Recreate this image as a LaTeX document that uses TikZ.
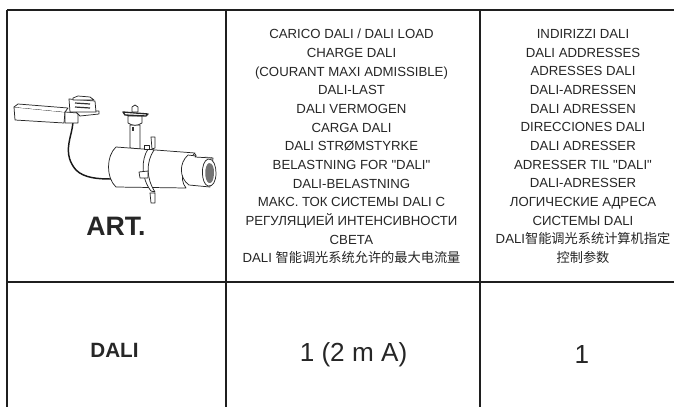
\documentclass[tikz,border=0pt]{standalone}
\usepackage{fontspec}
\setmainfont{Liberation Sans}
\newfontfamily\plainfont{Liberation Sans}
\newfontfamily\cjk{Noto Sans CJK SC}
\tikzset{
  gridline/.style={line width=1.9pt,color=black!88},
  hdr/.style={align=center,font=\plainfont\fontsize{9.9}{14}\selectfont,inner sep=0pt,text=black!85},
  big/.style={font=\fontsize{19.6}{22}\selectfont,text=black!85,inner sep=0pt},
  lamp/.style={line width=0.55pt,color=black!85,fill=white,line join=round}
}
\begin{document}
\begin{tikzpicture}[x=0.75pt,y=-0.75pt]
\useasboundingbox (0,0) rectangle (674,407);
\fill[white] (0,0) rectangle (674,407);
\coordinate (tl) at (7,10); \coordinate (tr) at (674,10);
\coordinate (ml) at (7,282); \coordinate (mr) at (674,282);
\coordinate (bl) at (7,407);
\coordinate (c1t) at (226,10); \coordinate (c1b) at (226,407);
\coordinate (c2t) at (480,10); \coordinate (c2b) at (480,407);
\draw[gridline] (tl) -- (tr);
\draw[gridline] (ml) -- (mr);
\draw[gridline] (tl) -- (bl);
\draw[gridline] (c1t) -- (c1b);
\draw[gridline] (c2t) -- (c2b);
\node[hdr,anchor=north] (h1) at (351.5,29) {CARICO DALI / DALI LOAD\\CHARGE DALI\\(COURANT MAXI ADMISSIBLE)\\DALI-LAST\\DALI VERMOGEN\\CARGA DALI\\DALI STRØMSTYRKE\\BELASTNING FOR "DALI"\\DALI-BELASTNING\\МАКС. ТОК СИСТЕМЫ DALI С\\РЕГУЛЯЦИЕЙ ИНТЕНСИВНОСТИ\\СВЕТА\\DALI {\cjk 智能调光系统允许的最大电流量}};
\node[hdr,anchor=north] (h2) at (583,29) {INDIRIZZI DALI\\DALI ADDRESSES\\ADRESSES DALI\\DALI-ADRESSEN\\DALI ADRESSEN\\DIRECCIONES DALI\\DALI ADRESSER\\ADRESSER TIL "DALI"\\DALI-ADRESSER\\ЛОГИЧЕСКИЕ АДРЕСА\\СИСТЕМЫ DALI\\DALI{\cjk 智能调光系统计算机指定}\\{\cjk 控制参数}};
\node[inner sep=0pt,font=\fontsize{20}{22}\selectfont\bfseries,text=black!85] (art) at (116,226) {ART.};
\node[inner sep=0pt,font=\fontsize{15.5}{17}\selectfont\bfseries,text=black!85] (dali) at (114.5,350) {DALI};
\node[big] (v1) at (353.5,355) {1 (2 m A)};
\node[big] (v2) at (582,355) {1};
% cable
\draw[line width=1.1pt,color=black!90] (73,122) .. controls (72,132) and (70,136) .. (69,143) .. controls (67,155) and (70,163) .. (76,170) .. controls (84,178) and (98,179) .. (111,179);
% track adapter box
\draw[lamp] (14,107) -- (15,120) -- (64,123) -- (65,112) -- cycle;
\draw[lamp] (14,107) -- (18,104) -- (68,108) -- (65,112);
\draw[lamp] (65,112) -- (78,113) -- (78,123) -- (65,123) -- cycle;
\draw[lamp] (75,111) -- (99,111) -- (99,114) -- (80,116) -- cycle;
\draw[lamp] (69,99) -- (95,101) -- (96,112) -- (70,112) -- cycle;
\draw[lamp] (73,98) -- (78,96) -- (90,97) -- (94,100) -- (73,100) -- cycle;
\draw[line width=0.9pt,color=black!80] (75,103) -- (90,104);
\draw[line width=0.9pt,color=black!80] (75,107) -- (90,108);
% stem and bracket
\draw[lamp] (130,125) -- (130,148) -- (140,149) -- (140,125) -- cycle;
\draw[line width=1pt,color=black!80] (133,127) -- (133,131);
\draw[lamp] (128,116) -- (128,123) .. controls (132,126) and (138,126) .. (142,123) -- (142,116) -- cycle;
\draw[lamp,line width=1pt] (123,112) -- (148,114) -- (146,116) -- (125,115) -- cycle;
\draw[lamp] (132,112) -- (132,107) -- (135,105) -- (138,107) -- (138,112) -- cycle;
% body
\draw[lamp] (116,147) -- (195,153) .. controls (184,163) and (178,178) .. (186,188) -- (116,187) .. controls (106,178) and (106,156) .. (116,147) -- cycle;
% front tube
\draw[lamp] (188,155) -- (213,158) -- (210,187) -- (189,185) .. controls (179,178) and (179,163) .. (188,155) -- cycle;
\draw[lamp] (195,154) .. controls (197,155) and (196,156) .. (195,157) -- (212,158);
% lens
\draw[lamp] (208,159) .. controls (214,158) and (216,167) .. (216,173) .. controls (216,181) and (213,187) .. (208,186) .. controls (201,184) and (200,162) .. (208,159) -- cycle;
\fill[black!55] (209,163) .. controls (213,163) and (214,168) .. (214,173) .. controls (214,179) and (212,184) .. (209,183) .. controls (204,181) and (204,165) .. (209,163) -- cycle;
% ring
\draw[lamp] (148,149) .. controls (141,160) and (141,178) .. (151,191) -- (155,192) .. controls (146,178) and (146,162) .. (154,150) -- cycle;
\draw[lamp] (151,137) -- (155,137) -- (155,148) -- (152,149) -- cycle;
\draw[lamp] (150,193) -- (155,193) -- (155,203) -- (151,203) -- cycle;
\draw[lamp] (139,172) -- (148,171) -- (148,178) -- (140,178) -- cycle;
\draw[lamp] (144,145) -- (149,145) -- (149,149) -- (144,149) -- cycle;
\end{tikzpicture}
\end{document}
